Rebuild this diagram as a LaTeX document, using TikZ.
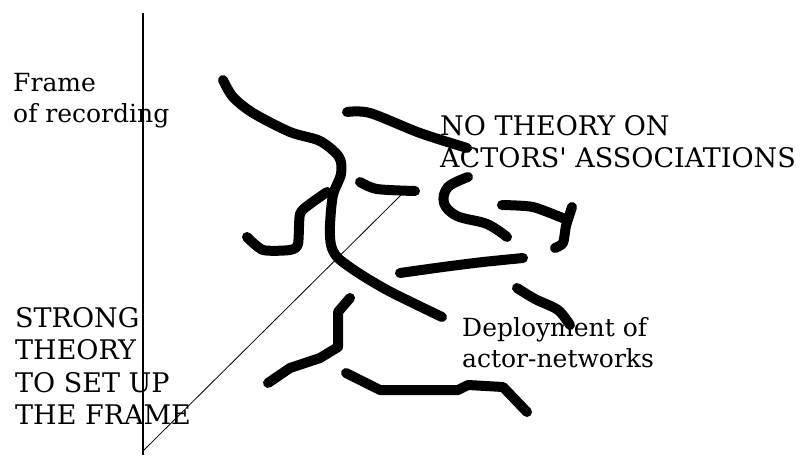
\documentclass[tikz,border=0pt]{standalone}
\usepackage{fontspec}
\setmainfont{DejaVu Serif}
\tikzset{
  strand/.style = {line width=10pt, line cap=round, line join=round},
  frameline/.style = {line width=1.6pt},
  label/.style = {align=left, anchor=north west, inner sep=0pt,
                  font=\fontsize{25}{31}\selectfont},
  caps/.style = {label, font=\fontsize{27}{32.5}\selectfont},
}

\begin{document}
\begin{tikzpicture}[x=1pt, y=-1pt]
    \useasboundingbox (0,0) rectangle (808,455);
    % frame of recording
    \coordinate (top) at (143,13);
    \coordinate (bottom) at (143,455);
    \coordinate (corner) at (143,451);
    \coordinate (tip) at (401,195);
    \draw [frameline] (top) -- (bottom);
    \draw [line width=0.8pt] (corner) -- (tip);

    % the actor-networks
    \draw [strand] plot[smooth, tension=0.5] coordinates {(223,80) (233,97) (253,113) (290,132) (320,141) (339,157) (341,174) (333,195) (330,225) (331,245) (338,258) (360,274) (387,290) (413,303) (442,317)};
    \draw [strand] plot[smooth, tension=0.4] coordinates {(247,237) (263,250) (290,250) (298,244) (300,214) (310,204) (327,192)};
    \draw [strand] plot[smooth, tension=0.5] coordinates {(347,112) (370,113) (420,133) (467,148)};
    \draw [strand] plot[smooth, tension=0.5] coordinates {(360,182) (377,189) (415,191)};
    \draw [strand] plot[smooth, tension=0.6] coordinates {(468,177) (448,187) (444,203) (457,216) (487,224) (507,237)};
    \draw [strand] plot[smooth, tension=0.4] coordinates {(502,205) (533,207) (565,219)};
    \draw [strand] plot[smooth, tension=0.4] coordinates {(572,207) (566,226) (563,243) (555,248)};
    \draw [strand] plot[smooth, tension=0.4] coordinates {(400,273) (443,267) (483,262) (523,258)};
    \draw [strand] plot[smooth, tension=0.5] coordinates {(517,288) (535,299) (558,310) (570,325)};
    \draw [strand] (350,298) -- (338,312) -- (338,347) -- (320,358) -- (290,368) -- (268,383);
    \draw [strand] (346,373) -- (380,390) -- (458,390) -- (468,385) -- (503,387) -- (527,412);

    % labels
    \node [label] (recording) at (13,73) {Frame\\of recording};
    \node [caps] (notheory) at (440,115) {NO THEORY ON\\ACTORS\textquotesingle{} ASSOCIATIONS};
    \node [caps] (strong) at (15,307) {STRONG\\THEORY\\TO SET UP\\THE FRAME};
    \node [label] (deploy) at (462,317) {Deployment of\\actor-networks};
\end{tikzpicture}
\end{document}
